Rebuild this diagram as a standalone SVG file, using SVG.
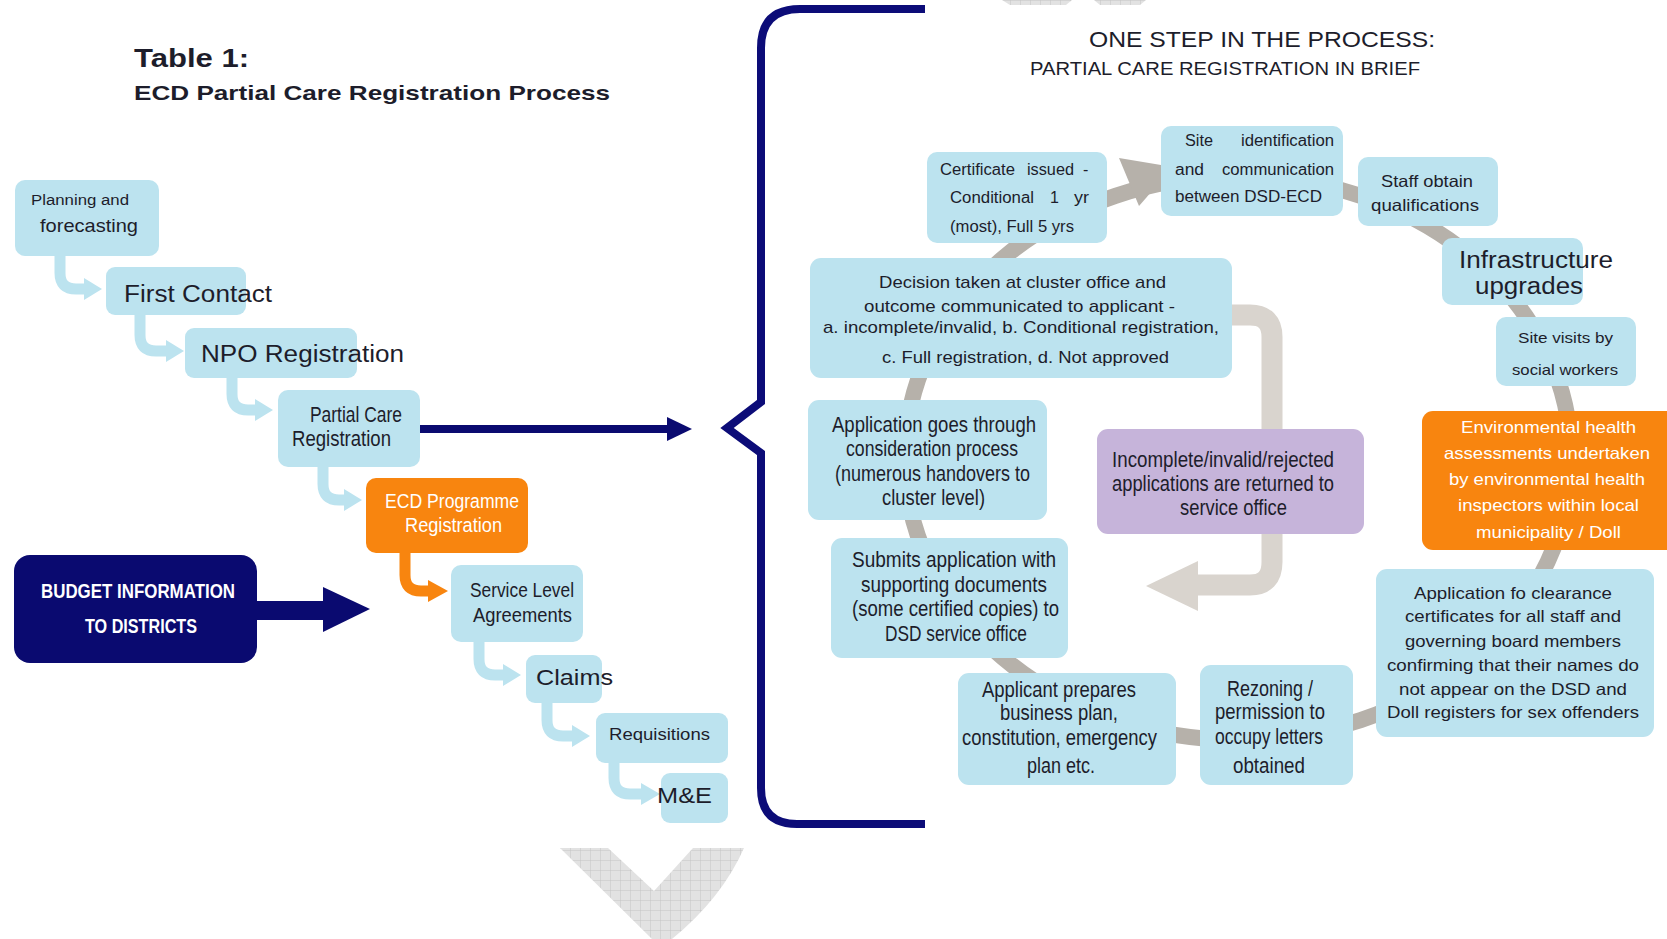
<svg xmlns="http://www.w3.org/2000/svg" width="1667" height="939" viewBox="0 0 1667 939">
  <defs>
    <style>
      .t { font-family: "Liberation Sans", Arial, sans-serif; fill: #1d1d2b; }
      .b { font-weight: bold; }
      .w { fill: #ffffff; }
      .box { fill: #bce3ef; }
      .org { fill: #f8850f; }
      .lnk { fill: none; stroke: #bce3ef; stroke-width: 11; }
      .lnk-o { fill: none; stroke: #f8850f; stroke-width: 11; }
      .head { fill: #bce3ef; }
      .head-o { fill: #f8850f; }
      .navy { fill: #0a0a70; }
    </style>
    <pattern id="grid" width="10" height="10" patternUnits="userSpaceOnUse">
      <rect width="10" height="10" fill="#e2e2e2"/>
      <path d="M0 0H10M0 0V10" stroke="#c2c2c2" stroke-width="0.9"/>
    </pattern>
  </defs>

  <rect width="1667" height="939" fill="#ffffff"/>

  <!-- hatched chevrons -->
  <g id="chevrons">
    <polygon points="1002,0 1072,0 1066,5 1010,5" fill="url(#grid)"/>
    <polygon points="1094,0 1146,0 1140,5 1100,5" fill="url(#grid)"/>
    <path d="M560 848H608L654 891L693 848H744Q722 898 672 939H652Z" fill="url(#grid)"/>
  </g>

  <!-- headings -->
  <g id="titles">
    <text class="t b" x="134" y="67" font-size="26" textLength="115" lengthAdjust="spacingAndGlyphs">Table 1:</text>
    <text class="t b" x="134" y="100" font-size="21" textLength="476" lengthAdjust="spacingAndGlyphs">ECD Partial Care Registration Process</text>
    <text class="t" x="1089" y="47" font-size="22" textLength="346" lengthAdjust="spacingAndGlyphs">ONE STEP IN THE PROCESS:</text>
    <text class="t" x="1030" y="75" font-size="18" textLength="390" lengthAdjust="spacingAndGlyphs">PARTIAL CARE REGISTRATION IN BRIEF</text>
  </g>

  <!-- connectors -->
  <g id="connectors">
    <!-- left chain hooks -->
    <path class="lnk" d="M60 250V273Q60 289 76 289H85"/>
    <polygon class="head" points="84,278 102,289 84,300"/>
    <path class="lnk" d="M140 310V335Q140 351 156 351H167"/>
    <polygon class="head" points="166,340 184,351 166,362"/>
    <path class="lnk" d="M232 373V394Q232 410 248 410H256"/>
    <polygon class="head" points="255,399 273,410 255,421"/>
    <path class="lnk" d="M323 462V484Q323 500 339 500H345"/>
    <polygon class="head" points="344,489 362,500 344,511"/>
    <path class="lnk-o" d="M405 548V575Q405 591 421 591H429"/>
    <polygon class="head-o" points="428,580 448,591 428,602"/>
    <path class="lnk" d="M479 636V659Q479 675 495 675H504"/>
    <polygon class="head" points="503,664 521,675 503,686"/>
    <path class="lnk" d="M547 698V720Q547 736 563 736H573"/>
    <polygon class="head" points="572,725 590,736 572,747"/>
    <path class="lnk" d="M614 758V778Q614 794 630 794H642"/>
    <polygon class="head" points="641,783 660,794 641,805"/>

    <!-- link to the detail panel -->
    <path d="M411 429H669" stroke="#0a0a70" stroke-width="8" fill="none"/>
    <polygon class="navy" points="667,417 692,429 667,441"/>

    <!-- budget feed -->
    <rect class="navy" x="250" y="601" width="74" height="19"/>
    <polygon class="navy" points="323,587 370,609 323,632"/>

    <!-- brace -->
    <path d="M925 9H800Q761 9 761 48V402L727 428L761 453V788Q761 824 797 824H925" fill="none" stroke="#0c0c78" stroke-width="8" stroke-linejoin="miter"/>

    <!-- registration cycle -->
    <ellipse cx="1238" cy="458" rx="333" ry="282" fill="none" stroke="#b6b1aa" stroke-width="16"/>
    <polygon points="1119,158 1173,167 1139,206" fill="#b6b1aa"/>

    <!-- return loop for rejected applications -->
    <path d="M1225 315H1250Q1272 315 1272 337V562Q1272 585 1250 585H1196" fill="none" stroke="#d9d4ce" stroke-width="21"/>
    <polygon points="1198,561 1146,586 1198,611" fill="#d9d4ce"/>
  </g>

  <!-- left chain -->
  <g id="planning">
    <rect class="box" x="15" y="180" width="144" height="76" rx="10"/>
    <text class="t" x="31" y="205" font-size="14" textLength="98" lengthAdjust="spacingAndGlyphs">Planning and</text>
    <text class="t" x="40" y="232" font-size="19" textLength="98" lengthAdjust="spacingAndGlyphs">forecasting</text>
  </g>
  <g id="first-contact">
    <rect class="box" x="106" y="267" width="140" height="48" rx="9"/>
    <text class="t" x="124" y="302" font-size="23" textLength="148" lengthAdjust="spacingAndGlyphs">First Contact</text>
  </g>
  <g id="npo-registration">
    <rect class="box" x="185" y="328" width="172" height="50" rx="9"/>
    <text class="t" x="201" y="362" font-size="23" textLength="203" lengthAdjust="spacingAndGlyphs">NPO Registration</text>
  </g>
  <g id="partial-care">
    <rect class="box" x="278" y="390" width="142" height="77" rx="10"/>
    <text class="t" x="310" y="422" font-size="21.5" textLength="92" lengthAdjust="spacingAndGlyphs">Partial Care</text>
    <text class="t" x="292" y="446" font-size="21.5" textLength="99" lengthAdjust="spacingAndGlyphs">Registration</text>
  </g>
  <g id="ecd-programme">
    <rect class="org" x="366" y="478" width="162" height="75" rx="10"/>
    <text class="t w" x="385" y="508" font-size="20.5" textLength="134" lengthAdjust="spacingAndGlyphs">ECD Programme</text>
    <text class="t w" x="405" y="532" font-size="20.5" textLength="97" lengthAdjust="spacingAndGlyphs">Registration</text>
  </g>
  <g id="budget">
    <rect class="navy" x="14" y="555" width="243" height="108" rx="16"/>
    <text class="t b w" x="41" y="598" font-size="20" textLength="194" lengthAdjust="spacingAndGlyphs">BUDGET INFORMATION</text>
    <text class="t b w" x="85" y="633" font-size="20" textLength="112" lengthAdjust="spacingAndGlyphs">TO DISTRICTS</text>
  </g>
  <g id="service-level">
    <rect class="box" x="451" y="565" width="132" height="77" rx="10"/>
    <text class="t" x="470" y="597" font-size="21" textLength="104" lengthAdjust="spacingAndGlyphs">Service Level</text>
    <text class="t" x="473" y="622" font-size="21" textLength="99" lengthAdjust="spacingAndGlyphs">Agreements</text>
  </g>
  <g id="claims">
    <rect class="box" x="526" y="655" width="76" height="48" rx="9"/>
    <text class="t" x="536" y="685" font-size="22" textLength="77" lengthAdjust="spacingAndGlyphs">Claims</text>
  </g>
  <g id="requisitions">
    <rect class="box" x="596" y="713" width="132" height="50" rx="9"/>
    <text class="t" x="609" y="740" font-size="16.5" textLength="101" lengthAdjust="spacingAndGlyphs">Requisitions</text>
  </g>
  <g id="m-and-e">
    <rect class="box" x="661" y="773" width="67" height="50" rx="9"/>
    <text class="t" x="657" y="803" font-size="22" textLength="55" lengthAdjust="spacingAndGlyphs">M&amp;E</text>
  </g>

  <!-- cycle steps -->
  <g id="certificate">
    <rect class="box" x="927" y="152" width="180" height="91" rx="10"/>
    <text class="t" y="175" font-size="16"><tspan x="940" textLength="75" lengthAdjust="spacingAndGlyphs">Certificate</tspan><tspan x="1027" textLength="47" lengthAdjust="spacingAndGlyphs">issued</tspan><tspan x="1083">-</tspan></text>
    <text class="t" y="203" font-size="16"><tspan x="950" textLength="84" lengthAdjust="spacingAndGlyphs">Conditional</tspan><tspan x="1050">1</tspan><tspan x="1074" textLength="15" lengthAdjust="spacingAndGlyphs">yr</tspan></text>
    <text class="t" x="950" y="232" font-size="16" textLength="124" lengthAdjust="spacingAndGlyphs">(most), Full 5 yrs</text>
  </g>
  <g id="site-identification">
    <rect class="box" x="1161" y="126" width="182" height="90" rx="10"/>
    <text class="t" y="146" font-size="16"><tspan x="1185" textLength="28" lengthAdjust="spacingAndGlyphs">Site</tspan><tspan x="1241" textLength="93" lengthAdjust="spacingAndGlyphs">identification</tspan></text>
    <text class="t" y="175" font-size="16"><tspan x="1175" textLength="29" lengthAdjust="spacingAndGlyphs">and</tspan><tspan x="1222" textLength="112" lengthAdjust="spacingAndGlyphs">communication</tspan></text>
    <text class="t" x="1175" y="202" font-size="16" textLength="147" lengthAdjust="spacingAndGlyphs">between DSD-ECD</text>
  </g>
  <g id="staff-qualifications">
    <rect class="box" x="1358" y="157" width="140" height="69" rx="10"/>
    <text class="t" x="1381" y="187" font-size="16.5" textLength="92" lengthAdjust="spacingAndGlyphs">Staff obtain</text>
    <text class="t" x="1371" y="211" font-size="16.5" textLength="108" lengthAdjust="spacingAndGlyphs">qualifications</text>
  </g>
  <g id="infrastructure">
    <rect class="box" x="1442" y="238" width="141" height="67" rx="10"/>
    <text class="t" x="1459" y="268" font-size="23" textLength="154" lengthAdjust="spacingAndGlyphs">Infrastructure</text>
    <text class="t" x="1475" y="294" font-size="23" textLength="108" lengthAdjust="spacingAndGlyphs">upgrades</text>
  </g>
  <g id="site-visits">
    <rect class="box" x="1496" y="317" width="140" height="69" rx="10"/>
    <text class="t" x="1518" y="343" font-size="15" textLength="95" lengthAdjust="spacingAndGlyphs">Site visits by</text>
    <text class="t" x="1512" y="375" font-size="15" textLength="106" lengthAdjust="spacingAndGlyphs">social workers</text>
  </g>
  <g id="environmental-health">
    <rect class="org" x="1422" y="411" width="260" height="139" rx="11"/>
    <text class="t w" x="1461" y="433" font-size="16.5" textLength="175" lengthAdjust="spacingAndGlyphs">Environmental health</text>
    <text class="t w" x="1444" y="459" font-size="16.5" textLength="206" lengthAdjust="spacingAndGlyphs">assessments undertaken</text>
    <text class="t w" x="1449" y="485" font-size="16.5" textLength="196" lengthAdjust="spacingAndGlyphs">by environmental health</text>
    <text class="t w" x="1458" y="511" font-size="16.5" textLength="181" lengthAdjust="spacingAndGlyphs">inspectors within local</text>
    <text class="t w" x="1476" y="538" font-size="16.5" textLength="145" lengthAdjust="spacingAndGlyphs">municipality / Doll</text>
  </g>
  <g id="clearance-certificates">
    <rect class="box" x="1376" y="569" width="278" height="168" rx="11"/>
    <text class="t" x="1414" y="599" font-size="16.5" textLength="198" lengthAdjust="spacingAndGlyphs">Application fo clearance</text>
    <text class="t" x="1405" y="622" font-size="16.5" textLength="216" lengthAdjust="spacingAndGlyphs">certificates for all staff and</text>
    <text class="t" x="1405" y="647" font-size="16.5" textLength="216" lengthAdjust="spacingAndGlyphs">governing board members</text>
    <text class="t" x="1387" y="671" font-size="16.5" textLength="252" lengthAdjust="spacingAndGlyphs">confirming that their names do</text>
    <text class="t" x="1399" y="695" font-size="16.5" textLength="228" lengthAdjust="spacingAndGlyphs">not appear on the DSD and</text>
    <text class="t" x="1387" y="718" font-size="16.5" textLength="252" lengthAdjust="spacingAndGlyphs">Doll registers for sex offenders</text>
  </g>
  <g id="rezoning">
    <rect class="box" x="1200" y="665" width="153" height="120" rx="11"/>
    <text class="t" x="1227" y="696" font-size="21.5" textLength="86" lengthAdjust="spacingAndGlyphs">Rezoning /</text>
    <text class="t" x="1215" y="719" font-size="21.5" textLength="110" lengthAdjust="spacingAndGlyphs">permission to</text>
    <text class="t" x="1215" y="744" font-size="21.5" textLength="108" lengthAdjust="spacingAndGlyphs">occupy letters</text>
    <text class="t" x="1233" y="773" font-size="21.5" textLength="72" lengthAdjust="spacingAndGlyphs">obtained</text>
  </g>
  <g id="business-plan">
    <rect class="box" x="958" y="673" width="218" height="112" rx="11"/>
    <text class="t" x="982" y="697" font-size="21.5" textLength="154" lengthAdjust="spacingAndGlyphs">Applicant prepares</text>
    <text class="t" x="1000" y="720" font-size="21.5" textLength="118" lengthAdjust="spacingAndGlyphs">business plan,</text>
    <text class="t" x="962" y="745" font-size="21.5" textLength="195" lengthAdjust="spacingAndGlyphs">constitution, emergency</text>
    <text class="t" x="1027" y="773" font-size="21.5" textLength="68" lengthAdjust="spacingAndGlyphs">plan etc.</text>
  </g>
  <g id="submits-application">
    <rect class="box" x="831" y="538" width="237" height="120" rx="11"/>
    <text class="t" x="852" y="567" font-size="21.5" textLength="204" lengthAdjust="spacingAndGlyphs">Submits application with</text>
    <text class="t" x="861" y="592" font-size="21.5" textLength="186" lengthAdjust="spacingAndGlyphs">supporting documents</text>
    <text class="t" x="852" y="616" font-size="21.5" textLength="207" lengthAdjust="spacingAndGlyphs">(some certified copies) to</text>
    <text class="t" x="885" y="641" font-size="21.5" textLength="142" lengthAdjust="spacingAndGlyphs">DSD service office</text>
  </g>
  <g id="consideration">
    <rect class="box" x="808" y="400" width="239" height="120" rx="11"/>
    <text class="t" x="832" y="432" font-size="21.5" textLength="204" lengthAdjust="spacingAndGlyphs">Application goes through</text>
    <text class="t" x="846" y="456" font-size="21.5" textLength="172" lengthAdjust="spacingAndGlyphs">consideration process</text>
    <text class="t" x="835" y="481" font-size="21.5" textLength="195" lengthAdjust="spacingAndGlyphs">(numerous handovers to</text>
    <text class="t" x="882" y="505" font-size="21.5" textLength="103" lengthAdjust="spacingAndGlyphs">cluster level)</text>
  </g>
  <g id="decision">
    <rect class="box" x="810" y="258" width="422" height="120" rx="11"/>
    <text class="t" x="879" y="288" font-size="17" textLength="287" lengthAdjust="spacingAndGlyphs">Decision taken at cluster office and</text>
    <text class="t" x="864" y="312" font-size="17" textLength="311" lengthAdjust="spacingAndGlyphs">outcome communicated to applicant -</text>
    <text class="t" x="823" y="333" font-size="17" textLength="396" lengthAdjust="spacingAndGlyphs">a. incomplete/invalid, b. Conditional registration,</text>
    <text class="t" x="882" y="363" font-size="17" textLength="287" lengthAdjust="spacingAndGlyphs">c. Full registration, d. Not approved</text>
  </g>
  <g id="returned">
    <rect x="1097" y="429" width="267" height="105" rx="11" fill="#c6b4da"/>
    <text class="t" x="1112" y="467" font-size="21.5" textLength="222" lengthAdjust="spacingAndGlyphs">Incomplete/invalid/rejected</text>
    <text class="t" x="1112" y="491" font-size="21.5" textLength="222" lengthAdjust="spacingAndGlyphs">applications are returned to</text>
    <text class="t" x="1180" y="515" font-size="21.5" textLength="107" lengthAdjust="spacingAndGlyphs">service office</text>
  </g>
</svg>
